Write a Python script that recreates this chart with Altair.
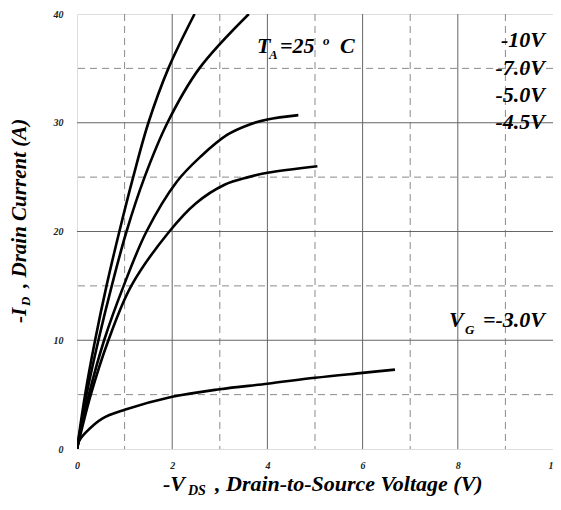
import altair as alt
import pandas as pd

# ---- data ----
series_names = ["-10V", "-7.0V", "-5.0V", "-4.5V", "-3.0V"]

vg10_x = [0, 0.17, 0.38, 0.62, 0.89, 1.18, 1.50, 1.92, 2.47]
vg10_y = [0, 5, 10, 15, 20, 25, 30, 35, 40]

vg7_x = [0, 0.20, 0.45, 0.73, 1.04, 1.42, 1.90, 2.57, 3.61]
vg7_y = [0, 5, 10, 15, 20, 25, 30, 35, 40]

vg5_x = [0, 0.25, 0.57, 0.98, 1.46, 2.10, 2.60, 3.16, 3.60, 4.00, 4.65]
vg5_y = [0, 5, 10, 15, 20, 24.6, 26.9, 28.9, 29.8, 30.3, 30.7]

vg45_x = [0, 0.29, 0.66, 1.14, 1.94, 2.50, 3.10, 3.60, 4.00, 5.05]
vg45_y = [0, 5, 10, 15, 20, 22.6, 24.3, 25.0, 25.4, 26.0]

vg3_x = [0, 0.04, 0.18, 0.53, 1.0, 2.0, 3.0, 4.0, 5.0, 6.0, 6.68]
vg3_y = [0, 0.7, 1.5, 2.8, 3.6, 4.8, 5.5, 6.0, 6.55, 7.0, 7.3]

x_ticks = [0, 2, 4, 6, 8, 10]
y_ticks = [0, 10, 20, 30, 40]
x_grid_solid = [2, 4, 6, 8]
x_grid_dash = [1, 3, 5, 7, 9]
y_grid_solid = [10, 20, 30]
y_grid_dash = [5, 15, 25, 35]

# ---- tables ----
rows = []
for name, xs_, ys_ in zip(series_names,
                          [vg10_x, vg7_x, vg5_x, vg45_x, vg3_x],
                          [vg10_y, vg7_y, vg5_y, vg45_y, vg3_y]):
    for i, (a, b) in enumerate(zip(xs_, ys_)):
        rows.append({"series": name, "i": i, "vds": a, "id": b})
curves = pd.DataFrame(rows)

FONT = "Liberation Serif"
W, H = 476, 435

xs = alt.Scale(domain=[0, 10], nice=False)
ys = alt.Scale(domain=[0, 40], nice=False)

def vrules(vals, dash, color):
    m = alt.Chart(pd.DataFrame({"v": vals})).mark_rule(
        color=color, strokeWidth=1, **({"strokeDash": [7, 5]} if dash else {}))
    return m.encode(x=alt.X("v:Q", scale=xs))

def hrules(vals, dash, color):
    m = alt.Chart(pd.DataFrame({"v": vals})).mark_rule(
        color=color, strokeWidth=1, **({"strokeDash": [7, 5]} if dash else {}))
    return m.encode(y=alt.Y("v:Q", scale=ys))

grid = alt.layer(
    vrules(x_grid_solid, False, "#666666"),
    vrules(x_grid_dash, True, "#8a8a8a"),
    hrules(y_grid_solid, False, "#666666"),
    hrules(y_grid_dash, True, "#8a8a8a"),
)

lines = alt.Chart(curves).mark_line(
    color="black", strokeWidth=2.6, interpolate="catmull-rom", clip=True
).encode(
    x=alt.X("vds:Q", scale=xs, title=None,
            axis=alt.Axis(values=x_ticks, format="d", grid=False, domain=False,
                          ticks=False, tickSize=0, labelPadding=11,
                          labelFlush=False, labelFont=FONT, labelFontSize=10,
                          labelFontStyle="italic", labelFontWeight="bold",
                          labelColor="#222222")),
    y=alt.Y("id:Q", scale=ys, title=None,
            axis=alt.Axis(values=y_ticks, format="d", grid=False, domain=False,
                          ticks=False, tickSize=0, labelPadding=14,
                          labelFont=FONT, labelFontSize=10,
                          labelFontStyle="italic", labelFontWeight="bold",
                          labelColor="#222222")),
    detail="series:N",
    order="i:Q",
)

# ---- text annotations (pixel positions relative to plot area) ----
def txt(s, x, y, size=22, align="left", angle=0, baseline="alphabetic"):
    kw = dict(text=s, font=FONT, fontSize=size, fontStyle="italic",
              fontWeight="bold", align=align, baseline=baseline, color="black")
    if angle:
        kw["angle"] = angle
    return alt.Chart(pd.DataFrame({"a": [0]})).mark_text(**kw).encode(
        x=alt.value(x), y=alt.value(y))

labels = [
    # T_A = 25 o C
    txt("T", 180, 39),
    txt("A", 192, 45, size=13),
    txt("=25", 203, 39),
    txt("o", 246, 31, size=13),
    txt("C", 263, 39),
    # gate voltages
    txt("-10V", 468, 33, align="right"),
    txt("-7.0V", 468, 61, align="right"),
    txt("-5.0V", 468, 88, align="right"),
    txt("-4.5V", 468, 115, align="right"),
    txt("V", 372, 313),
    txt("G", 388, 320, size=13),
    txt("=-3.0V", 468, 313, align="right"),
    # x title
    txt("-V", 86, 477),
    txt("DS", 111, 481, size=14),
    txt(", Drain-to-Source Voltage (V)", 138, 477),
    # y title (rotated)
    txt("-I", -51, 309, size=21, angle=270),
    txt("D", -47, 292, size=13, angle=270),
    txt(", Drain Current (A)", -51, 274, size=21, angle=270),
]

chart = alt.layer(grid, lines, *labels).properties(
    width=W, height=H,
    autosize=alt.AutoSizeParams(type="none"),
    padding={"left": 69, "top": 6, "right": 0, "bottom": 49},
).configure_view(stroke="black", strokeWidth=3).configure(background="white")

chart.save("out.html", embed_options={"renderer": "svg", "actions": False})
